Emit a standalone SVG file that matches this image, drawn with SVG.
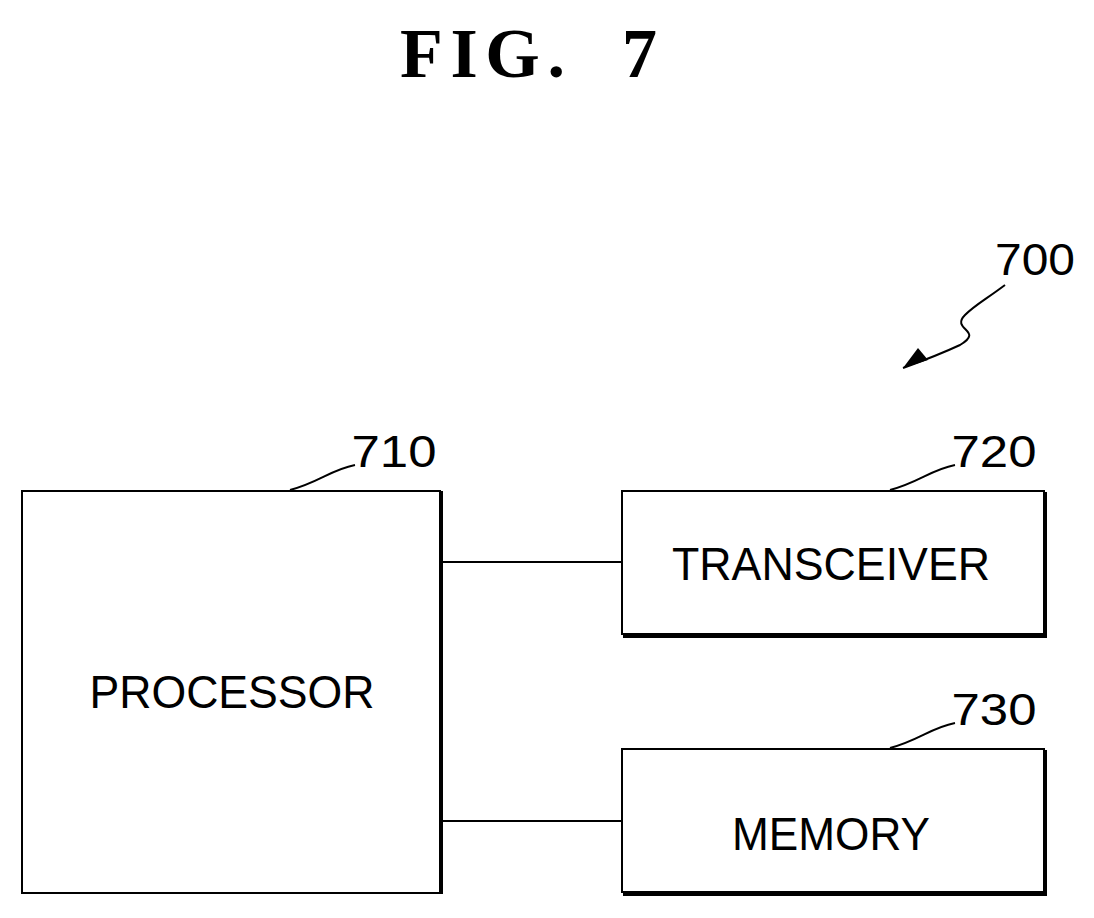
<svg xmlns="http://www.w3.org/2000/svg" width="1094" height="918" viewBox="0 0 1094 918">
<style>
.box{fill:#fff;stroke:#000;stroke-width:2}
.sh{fill:none;stroke:#000;stroke-width:4}
.ln{fill:none;stroke:#000;stroke-width:2}
.lbl{font-family:"Liberation Sans",Arial,sans-serif;font-size:46px;text-anchor:middle}
.num{font-family:"Liberation Sans",Arial,sans-serif;font-size:44px;text-anchor:middle}
.ttl{font-family:"Liberation Serif",serif;font-weight:bold;font-size:70px}
</style>
<text x="400" y="77" class="ttl" textLength="165" lengthAdjust="spacing">FIG.</text>
<text x="622" y="77" class="ttl">7</text>
<text x="1035" y="275" class="num" textLength="80" lengthAdjust="spacingAndGlyphs">700</text>
<path class="ln" d="M1005,285 C985,300 975,305 965,315 C950,330 985,330 960,345 C945,352 925,360 903,368"/>
<path d="M903,368 L918,348 L928,360 Z"/>
<g id="processor">
<rect class="box" x="22" y="491" width="418" height="402"/>
<path class="sh" d="M441,491 V894"/>
<text x="232" y="708" class="lbl" textLength="285" lengthAdjust="spacingAndGlyphs">PROCESSOR</text>
<text x="394" y="467" class="num" textLength="85" lengthAdjust="spacingAndGlyphs">710</text>
<path class="ln" d="M290,490 C320,482 330,470 355,465"/>
</g>
<g id="transceiver">
<rect class="box" x="622" y="491" width="422" height="143"/>
<path class="sh" d="M1045,492 V636 H623"/>
<text x="831" y="580" class="lbl" textLength="318" lengthAdjust="spacingAndGlyphs">TRANSCEIVER</text>
<text x="994" y="467" class="num" textLength="85" lengthAdjust="spacingAndGlyphs">720</text>
<path class="ln" d="M890,490 C920,482 930,470 955,465"/>
</g>
<g id="memory">
<rect class="box" x="622" y="749" width="422" height="143"/>
<path class="sh" d="M1045,750 V894 H623"/>
<text x="831" y="850" class="lbl" textLength="198" lengthAdjust="spacingAndGlyphs">MEMORY</text>
<text x="994" y="725" class="num" textLength="85" lengthAdjust="spacingAndGlyphs">730</text>
<path class="ln" d="M890,748 C920,740 930,728 955,723"/>
</g>
<g id="connectors">
<path class="ln" d="M442,562 H622"/>
<path class="ln" d="M442,821 H622"/>
</g>
</svg>
